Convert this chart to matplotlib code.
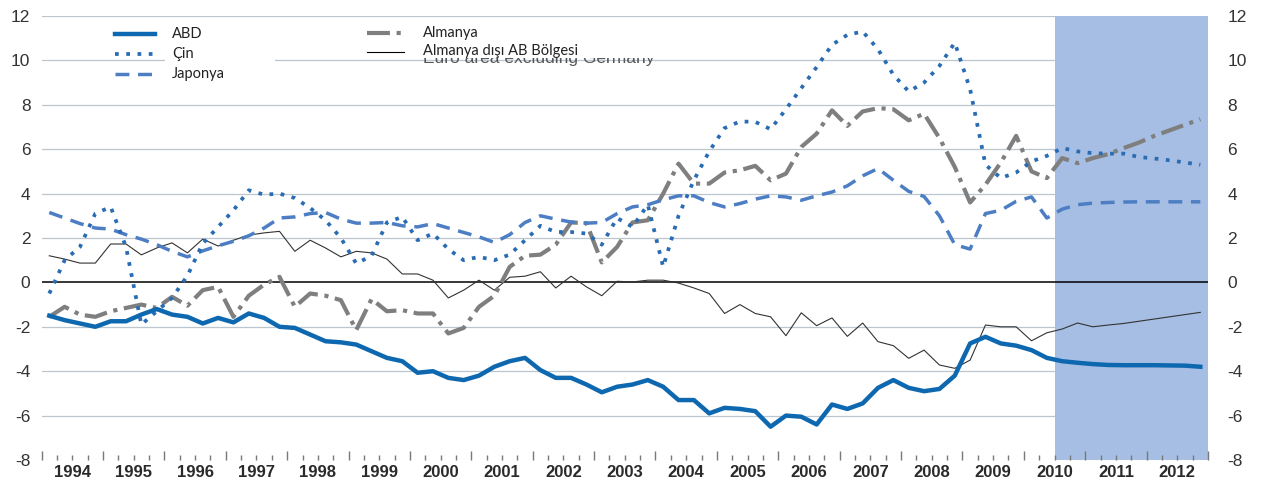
import numpy as np
import matplotlib
matplotlib.use('Agg')
import matplotlib.pyplot as plt
from matplotlib.lines import Line2D
from matplotlib.patches import Rectangle

plt.rcParams['axes.unicode_minus'] = False
plt.rcParams['font.family'] = ['Liberation Sans', 'DejaVu Sans']

# quarterly data, 1994Q1 .. 2012Q4 (projections from 2010Q3)
start_year = 1994
n_q = 76
years = list(range(1994, 2013))

abd = [-1.5, -1.7, -1.85, -2.0, -1.75, -1.75, -1.45, -1.2, -1.45, -1.55,
       -1.85, -1.6, -1.8, -1.4, -1.6, -2.0, -2.05, -2.35, -2.65, -2.7,
       -2.8, -3.1, -3.4, -3.55, -4.07, -4.0, -4.3, -4.4, -4.2, -3.8,
       -3.55, -3.4, -3.95, -4.3, -4.3, -4.6, -4.95, -4.7, -4.6, -4.4,
       -4.7, -5.3, -5.3, -5.9, -5.65, -5.7, -5.8, -6.5, -6.0, -6.05,
       -6.4, -5.5, -5.7, -5.45, -4.75, -4.4, -4.75, -4.9, -4.8, -4.2,
       -2.75, -2.45, -2.75, -2.85, -3.05, -3.4, -3.55, -3.62, -3.68, -3.72,
       -3.73, -3.73, -3.73, -3.74, -3.75, -3.8]

cin = [-0.5, 1.0, 1.6, 3.1, 3.4, 1.6, -1.9, -1.3, -0.7, 0.3,
       1.75, 2.5, 3.25, 4.15, 3.95, 4.0, 3.8, 3.35, 2.8, 2.0,
       0.85, 1.2, 2.7, 2.95, 1.9, 2.2, 1.5, 1.0, 1.15, 1.0,
       1.25, 1.9, 2.55, 2.27, 2.27, 2.2, 1.7, 2.9, 2.5, 3.5,
       0.7, 3.0, 4.6, 5.9, 6.95, 7.25, 7.23, 6.9, 7.8, 8.75,
       9.7, 10.7, 11.15, 11.3, 10.5, 9.35, 8.6, 9.0, 9.75, 10.8,
       8.7, 5.3, 4.7, 4.95, 5.45, 5.7, 6.05, 5.9, 5.82, 5.8,
       5.8, 5.65, 5.58, 5.5, 5.4, 5.3]

japonya = [3.15, 2.9, 2.65, 2.45, 2.4, 2.15, 1.95, 1.7, 1.4, 1.15,
           1.42, 1.65, 1.85, 2.1, 2.45, 2.9, 2.95, 3.1, 3.15, 2.85,
           2.67, 2.67, 2.7, 2.55, 2.5, 2.65, 2.45, 2.25, 2.05, 1.8,
           2.15, 2.7, 3.0, 2.85, 2.72, 2.67, 2.7, 3.1, 3.4, 3.5,
           3.72, 3.9, 3.9, 3.6, 3.4, 3.55, 3.75, 3.9, 3.85, 3.7,
           3.9, 4.07, 4.35, 4.8, 5.13, 4.6, 4.1, 3.87, 3.0, 1.7,
           1.5, 3.1, 3.25, 3.65, 3.85, 2.9, 3.3, 3.5, 3.57, 3.6,
           3.62, 3.63, 3.63, 3.63, 3.63, 3.63]

almanya = [-1.55, -1.1, -1.45, -1.55, -1.3, -1.15, -1.0, -1.15, -0.65, -1.05,
           -0.35, -0.2, -1.55, -0.6, -0.1, 0.25, -1.1, -0.5, -0.6, -0.8,
           -2.15, -0.75, -1.3, -1.25, -1.4, -1.4, -2.3, -2.05, -1.1, -0.6,
           0.7, 1.2, 1.25, 1.7, 2.7, 2.67, 0.9, 1.6, 2.7, 2.8,
           4.0, 5.35, 4.45, 4.45, 4.95, 5.05, 5.25, 4.6, 4.9, 6.1,
           6.7, 7.75, 7.05, 7.7, 7.85, 7.8, 7.3, 7.6, 6.5, 5.2,
           3.6, 4.4, 5.4, 6.6, 5.0, 4.7, 5.6, 5.37, 5.6, 5.78,
           6.05, 6.3, 6.6, 6.85, 7.1, 7.35]

almanya_disi = [1.2, 1.05, 0.87, 0.87, 1.73, 1.73, 1.24, 1.55, 1.78, 1.33,
                1.95, 1.64, 1.9, 2.13, 2.23, 2.3, 1.4, 1.9, 1.55, 1.15,
                1.4, 1.33, 1.05, 0.38, 0.38, 0.1, -0.7, -0.35, 0.1, -0.35,
                0.23, 0.28, 0.48, -0.25, 0.28, -0.2, -0.6, 0.05, 0.02, 0.1,
                0.1, -0.03, -0.25, -0.5, -1.4, -1.0, -1.4, -1.55, -2.4, -1.37,
                -1.95, -1.6, -2.43, -1.83, -2.67, -2.85, -3.42, -3.05, -3.72, -3.87,
                -3.5, -1.92, -2.0, -2.0, -2.63, -2.27, -2.1, -1.83, -2.0, -1.92,
                -1.85, -1.75, -1.65, -1.55, -1.45, -1.35]

proj_start = 2010.5
x = start_year + (np.arange(n_q) + 0.5) / 4

c_abd = '#0e68b0'
c_cin = '#2a6cb4'
c_jap = '#4d7ec4'
c_alm = '#7f7f7f'
c_dis = '#333333'

W, H = 1261, 484
fig = plt.figure(figsize=(W / 100, H / 100), dpi=100)
ax = fig.add_axes([41.6 / W, 1 - 460 / H, (1208 - 41.6) / W, 444 / H])

ax.set_xlim(1994, 2013)
ax.set_ylim(-8, 12)

for g in range(-6, 13, 2):
    if g != 0:
        ax.axhline(g, color='#bcc6cf', lw=0.9, zorder=0.5)
ax.axvspan(proj_start, 2013, color='#a6bee3', lw=0, zorder=1)
ax.axhline(0, color='black', lw=1.1, zorder=2)

ax.plot(x, almanya_disi, color=c_dis, lw=0.8, zorder=3)
ax.plot(x, almanya, color=c_alm, lw=3.0, dashes=(5.5, 1.6, 1, 1.6), zorder=4)
ax.plot(x, japonya, color=c_jap, lw=2.5, dashes=(4, 2.5), zorder=4)
ax.plot(x, cin, color=c_cin, lw=2.7, dashes=(1, 2), zorder=5)
ax.plot(x, abd, color=c_abd, lw=3.2, zorder=6)

for s in ax.spines.values():
    s.set_visible(False)

# x axis: year boundaries + quarter ticks, labels mid-year
ax.set_xticks(range(1994, 2014))
ax.set_xticks(np.arange(1994, 2013, 0.25), minor=True)
ax.tick_params(axis='x', which='major', direction='in', length=6.5, width=1,
               color='#777777', labelbottom=False)
ax.tick_params(axis='x', which='minor', direction='in', length=3.5, width=1,
               color='#777777')
for yr in years:
    ax.text(yr + 0.5, -0.012, str(yr), transform=ax.get_xaxis_transform(),
            ha='center', va='top', fontsize=12, fontweight='bold', color='#2a2a2a')

ax.set_yticks(range(-8, 13, 2))
ax.tick_params(axis='y', length=0, pad=8, labelsize=12.5, labelcolor='#333333')
sec = ax.secondary_yaxis('right')
sec.set_yticks(range(-8, 13, 2))
sec.tick_params(axis='y', length=0, pad=14, labelsize=12.5, labelcolor='#333333')
for s in sec.spines.values():
    s.set_visible(False)


def fx(px):
    return px / W


def fy(py):
    return 1 - py / H


# legend
fig.add_artist(Rectangle((fx(165), fy(96)), fx(110), 52 / H, facecolor='white',
                         edgecolor='none', transform=fig.transFigure, zorder=5))
leg_font = dict(family=['Lato', 'DejaVu Sans'], fontsize=10.5, color='#222222',
                va='center', transform=fig.transFigure, zorder=7)
left_items = [('ABD', c_abd, dict(lw=3.2)),
              ('Çin', c_cin, dict(lw=2.7, dashes=(1, 2))),
              ('Japonya', c_jap, dict(lw=2.5, dashes=(4, 2.5)))]
for i, (lab, col, kw) in enumerate(left_items):
    yy = 34 + i * 20
    fig.add_artist(Line2D([fx(115), fx(155)], [fy(yy), fy(yy)], color=col,
                          transform=fig.transFigure, zorder=6, **kw))
    fig.text(fx(172), fy(yy), lab, **leg_font)

fig.add_artist(Line2D([fx(367), fx(404)], [fy(33), fy(33)], color=c_alm, lw=3.0,
                      dashes=(5.5, 1.6, 1, 1.6), transform=fig.transFigure, zorder=6))
fig.text(fx(423), fy(33), 'Almanya', **leg_font)

# original English label, mostly hidden behind the Turkish one
fig.text(fx(423), fy(58), 'Euro area excluding Germany', fontsize=12.5,
         color='#555555', va='center', transform=fig.transFigure, zorder=4)
fig.add_artist(Rectangle((fx(418), fy(57.5)), fx(240), 16 / H, facecolor='white',
                         edgecolor='none', transform=fig.transFigure, zorder=5))
fig.add_artist(Line2D([fx(367), fx(404)], [fy(52), fy(52)], color='black', lw=0.8,
                      transform=fig.transFigure, zorder=6))
fig.text(fx(423), fy(51), 'Almanya dışı AB Bölgesi', **leg_font)

fig.savefig('out.png', dpi=100)
